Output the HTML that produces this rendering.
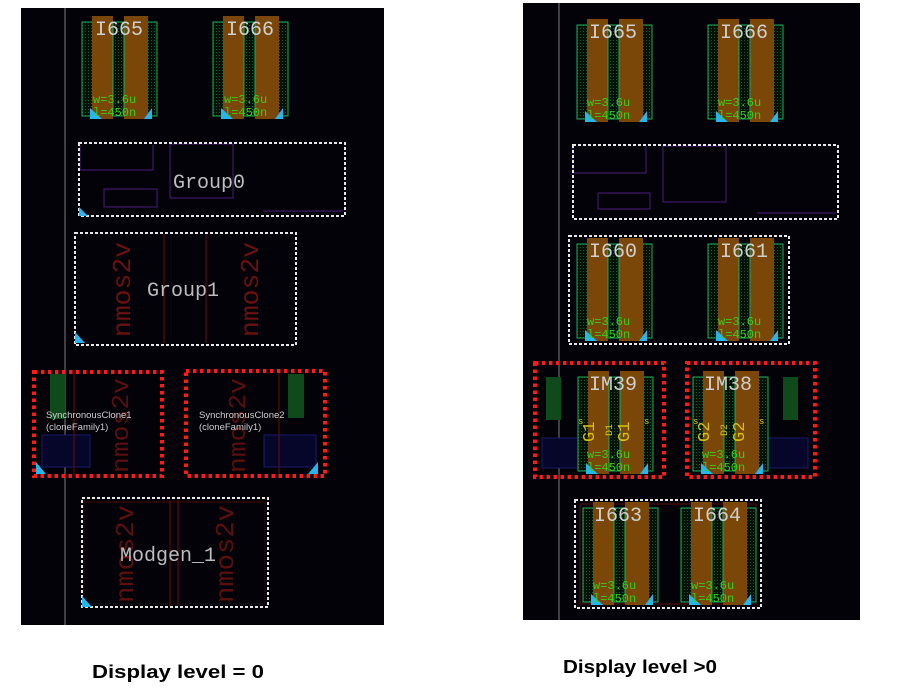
<!DOCTYPE html>
<html><head><meta charset="utf-8"><style>
html,body{margin:0;padding:0;background:#fff;width:897px;height:692px;overflow:hidden}
</style></head><body>
<svg width="897" height="692" viewBox="0 0 897 692" xmlns="http://www.w3.org/2000/svg">
<defs>
<pattern id="dots" width="3" height="3" patternUnits="userSpaceOnUse"><rect width="3" height="3" fill="#031208"/><rect width="1" height="1" fill="#145a30"/></pattern>
<g id="dev">
<rect x="0" y="0" width="75" height="94" fill="url(#dots)" stroke="#1fae5a" stroke-width="1"/>
<rect x="10" y="-6" width="21" height="103" fill="#7a4708"/>
<rect x="42" y="-6" width="24" height="103" fill="#7a4708"/>
<rect x="31" y="0" width="11" height="94" fill="none" stroke="#1fae5a" stroke-width="1"/>
<polygon points="8,86 8,97 20,97" fill="#2ab4ec"/>
<polygon points="70,86 70,97 62,97" fill="#2ab4ec"/>
</g>
</defs>

<!-- LEFT PANEL -->
<rect x="21" y="8" width="363" height="617" fill="#020208"/>
<line x1="65" y1="8" x2="65" y2="625" stroke="#555" stroke-width="1.5"/>

<g font-family="Liberation Mono, monospace">
<use href="#dev" x="82" y="22"/>
<text x="95" y="35" font-size="20" fill="#cfcfcf">I665</text>
<text x="93" y="103" font-size="12" fill="#3acc1a">w=3.6u</text>
<text x="93" y="116" font-size="12" fill="#3acc1a">l=450n</text>
<use href="#dev" x="213" y="22"/>
<text x="226" y="35" font-size="20" fill="#cfcfcf">I666</text>
<text x="224" y="103" font-size="12" fill="#3acc1a">w=3.6u</text>
<text x="224" y="116" font-size="12" fill="#3acc1a">l=450n</text>

<!-- Group0 -->
<polyline points="80,145 80,170 153,170 153,145" fill="none" stroke="#4a1c7a"/>
<rect x="104" y="189" width="53" height="18" fill="none" stroke="#4a1c7a"/>
<rect x="170" y="144" width="63" height="54" fill="none" stroke="#4a1c7a"/>
<line x1="263" y1="211" x2="343" y2="211" stroke="#4a1c7a"/>
<rect x="79" y="143" width="266" height="73" fill="none" stroke="#e8e8e8" stroke-width="2" stroke-dasharray="3,2"/>
<polygon points="79,207 79,216 88,216" fill="#2ab4ec"/>
<text x="173" y="188" font-size="20" fill="#bdbdbd">Group0</text>

<!-- Group1 -->
<line x1="164" y1="234" x2="164" y2="343" stroke="#6a0d0d"/>
<line x1="206" y1="234" x2="206" y2="343" stroke="#6a0d0d"/>
<text transform="translate(130,337) rotate(-90)" font-size="26" fill="#6a1212" textLength="95" lengthAdjust="spacingAndGlyphs">nmos2v</text>
<text transform="translate(258,337) rotate(-90)" font-size="26" fill="#6a1212" textLength="95" lengthAdjust="spacingAndGlyphs">nmos2v</text>
<rect x="75" y="233" width="221" height="112" fill="none" stroke="#e8e8e8" stroke-width="2" stroke-dasharray="3,2"/>
<polygon points="75,332 75,343 85,343" fill="#2ab4ec"/>
<text x="147" y="296" font-size="20" fill="#bdbdbd">Group1</text>

<!-- Sync clones -->
<rect x="50" y="374" width="15" height="45" fill="#0f4a1a"/>
<rect x="42" y="435" width="48" height="32" fill="#06062a" stroke="#1a1a6a"/>
<line x1="74" y1="370" x2="74" y2="476" stroke="#6a0d0d"/>
<text transform="translate(128,473) rotate(-90)" font-size="24" fill="#5a1010" textLength="95" lengthAdjust="spacingAndGlyphs">nmos2v</text>
<rect x="34" y="372" width="128" height="104" fill="none" stroke="#ff1a1a" stroke-width="4" stroke-dasharray="3.5,3.5"/>
<polygon points="36,462 36,474 46,474" fill="#2ab4ec"/>
<text x="46" y="418" font-size="9.5" fill="#cfcfcf" font-family="Liberation Sans, sans-serif">SynchronousClone1</text>
<text x="46" y="430" font-size="9.5" fill="#cfcfcf" font-family="Liberation Sans, sans-serif">(cloneFamily1)</text>

<rect x="288" y="374" width="16" height="44" fill="#0f4a1a"/>
<rect x="264" y="435" width="52" height="32" fill="#06062a" stroke="#1a1a6a"/>
<line x1="279" y1="370" x2="279" y2="476" stroke="#6a0d0d"/>
<text transform="translate(245,473) rotate(-90)" font-size="24" fill="#5a1010" textLength="95" lengthAdjust="spacingAndGlyphs">nmos2v</text>
<rect x="186" y="371" width="139" height="105" fill="none" stroke="#ff1a1a" stroke-width="4" stroke-dasharray="3.5,3.5"/>
<polygon points="318,462 318,474 308,474" fill="#2ab4ec"/>
<text x="199" y="418" font-size="9.5" fill="#cfcfcf" font-family="Liberation Sans, sans-serif">SynchronousClone2</text>
<text x="199" y="430" font-size="9.5" fill="#cfcfcf" font-family="Liberation Sans, sans-serif">(cloneFamily1)</text>

<!-- Modgen_1 -->
<rect x="84" y="502" width="181" height="102" fill="none" stroke="#4a0d0d" stroke-dasharray="1,1"/>
<line x1="170" y1="500" x2="170" y2="606" stroke="#6a0d0d"/>
<line x1="178" y1="500" x2="178" y2="606" stroke="#6a0d0d"/>
<text transform="translate(133,603) rotate(-90)" font-size="26" fill="#5a1010" textLength="98" lengthAdjust="spacingAndGlyphs">nmos2v</text>
<text transform="translate(233,603) rotate(-90)" font-size="26" fill="#5a1010" textLength="98" lengthAdjust="spacingAndGlyphs">nmos2v</text>
<rect x="82" y="498" width="186" height="109" fill="none" stroke="#e8e8e8" stroke-width="2" stroke-dasharray="3,2"/>
<polygon points="82,596 82,607 92,607" fill="#2ab4ec"/>
<text x="120" y="561" font-size="20" fill="#bdbdbd">Modgen_1</text>
</g>

<!-- RIGHT PANEL -->
<rect x="523" y="3" width="337" height="617" fill="#020208"/>
<line x1="559" y1="3" x2="559" y2="620" stroke="#555" stroke-width="1.5"/>

<g font-family="Liberation Mono, monospace">
<use href="#dev" x="577" y="25"/>
<text x="589" y="38" font-size="20" fill="#cfcfcf">I665</text>
<text x="587" y="106" font-size="12" fill="#3acc1a">w=3.6u</text>
<text x="587" y="119" font-size="12" fill="#3acc1a">l=450n</text>
<use href="#dev" x="708" y="25"/>
<text x="720" y="38" font-size="20" fill="#cfcfcf">I666</text>
<text x="718" y="106" font-size="12" fill="#3acc1a">w=3.6u</text>
<text x="718" y="119" font-size="12" fill="#3acc1a">l=450n</text>

<polyline points="573,146 573,173 646,173 646,146" fill="none" stroke="#4a1c7a"/>
<rect x="598" y="193" width="52" height="16" fill="none" stroke="#4a1c7a"/>
<rect x="663" y="146" width="63" height="56" fill="none" stroke="#4a1c7a"/>
<line x1="757" y1="213" x2="836" y2="213" stroke="#4a1c7a"/>
<rect x="573" y="145" width="265" height="74" fill="none" stroke="#e8e8e8" stroke-width="2" stroke-dasharray="3,2"/>

<use href="#dev" x="577" y="244"/>
<text x="589" y="257" font-size="20" fill="#cfcfcf">I660</text>
<text x="587" y="325" font-size="12" fill="#3acc1a">w=3.6u</text>
<text x="587" y="338" font-size="12" fill="#3acc1a">l=450n</text>
<use href="#dev" x="708" y="244"/>
<text x="720" y="257" font-size="20" fill="#cfcfcf">I661</text>
<text x="718" y="325" font-size="12" fill="#3acc1a">w=3.6u</text>
<text x="718" y="338" font-size="12" fill="#3acc1a">l=450n</text>
<rect x="569" y="236" width="220" height="108" fill="none" stroke="#e8e8e8" stroke-width="2" stroke-dasharray="3,2"/>

<!-- IM39 -->
<rect x="546" y="377" width="15" height="43" fill="#0f4a1a"/>
<rect x="542" y="438" width="40" height="30" fill="#06062a" stroke="#1a1a6a"/>
<use href="#dev" x="578" y="377"/>
<text x="589" y="390" font-size="20" fill="#cfcfcf">IM39</text>
<text transform="translate(594,442) rotate(-90)" font-size="17" fill="#d8c010">G1</text>
<text transform="translate(629,442) rotate(-90)" font-size="17" fill="#d8c010">G1</text>
<text transform="translate(612,436) rotate(-90)" font-size="10" fill="#d8c010">D1</text>
<text x="578" y="424" font-size="9" fill="#d8c010">s</text>
<text x="644" y="424" font-size="9" fill="#d8c010">s</text>
<text x="587" y="458" font-size="12" fill="#3acc1a">w=3.6u</text>
<text x="587" y="471" font-size="12" fill="#3acc1a">l=450n</text>
<rect x="535" y="363" width="129" height="114" fill="none" stroke="#ff1a1a" stroke-width="4" stroke-dasharray="3.5,3.5"/>

<!-- IM38 -->
<rect x="783" y="377" width="15" height="43" fill="#0f4a1a"/>
<rect x="760" y="438" width="48" height="30" fill="#06062a" stroke="#1a1a6a"/>
<use href="#dev" x="693" y="377"/>
<text x="704" y="390" font-size="20" fill="#cfcfcf">IM38</text>
<text transform="translate(709,442) rotate(-90)" font-size="17" fill="#d8c010">G2</text>
<text transform="translate(744,442) rotate(-90)" font-size="17" fill="#d8c010">G2</text>
<text transform="translate(727,436) rotate(-90)" font-size="10" fill="#d8c010">D2</text>
<text x="693" y="424" font-size="9" fill="#d8c010">s</text>
<text x="759" y="424" font-size="9" fill="#d8c010">s</text>
<text x="702" y="458" font-size="12" fill="#3acc1a">w=3.6u</text>
<text x="702" y="471" font-size="12" fill="#3acc1a">l=450n</text>
<rect x="687" y="363" width="128" height="114" fill="none" stroke="#ff1a1a" stroke-width="4" stroke-dasharray="3.5,3.5"/>

<!-- bottom group -->
<rect x="580" y="504" width="176" height="100" fill="none" stroke="#5a0d0d"/>
<use href="#dev" x="583" y="508"/>
<text x="594" y="521" font-size="20" fill="#cfcfcf">I663</text>
<text x="593" y="589" font-size="12" fill="#3acc1a">w=3.6u</text>
<text x="593" y="602" font-size="12" fill="#3acc1a">l=450n</text>
<use href="#dev" x="681" y="508"/>
<text x="693" y="521" font-size="20" fill="#cfcfcf">I664</text>
<text x="691" y="589" font-size="12" fill="#3acc1a">w=3.6u</text>
<text x="691" y="602" font-size="12" fill="#3acc1a">l=450n</text>
<rect x="575" y="500" width="186" height="108" fill="none" stroke="#e8e8e8" stroke-width="2" stroke-dasharray="3,2"/>
</g>

<!-- captions -->
<text x="92" y="678" font-family="Liberation Sans, sans-serif" font-weight="bold" font-size="18" fill="#000" textLength="172" lengthAdjust="spacingAndGlyphs">Display level = 0</text>
<text x="563" y="673" font-family="Liberation Sans, sans-serif" font-weight="bold" font-size="18" fill="#000" textLength="154" lengthAdjust="spacingAndGlyphs">Display level &gt;0</text>
</svg>
</body></html>
